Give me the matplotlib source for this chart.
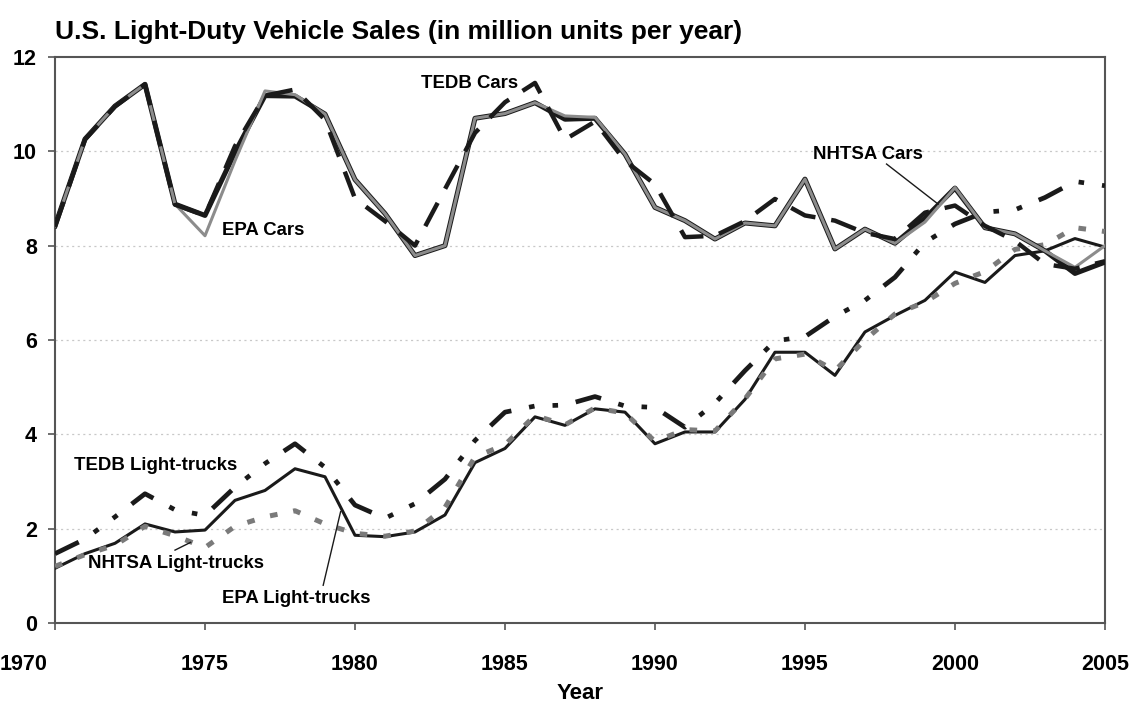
import matplotlib
matplotlib.use("Agg")
import matplotlib.pyplot as plt
from matplotlib.transforms import ScaledTranslation

plt.rcParams['font.family'] = ['Liberation Sans', 'DejaVu Sans']
plt.rcParams['font.weight'] = 'bold'
plt.rcParams['lines.scale_dashes'] = False

years = list(range(1970, 2006))

nhtsa_cars = [8.42, 10.26, 10.96, 11.42, 8.88, 8.64, 9.98, 11.18, 11.17, 10.79,
              9.40, 8.68, 7.79, 8.00, 10.70, 10.80, 11.03, 10.68, 10.70, 9.94,
              8.81, 8.53, 8.14, 8.48, 8.42, 9.41, 7.93, 8.35, 8.05, 8.58,
              9.22, 8.38, 8.25, 7.89, 7.41, 7.65]

epa_cars = [8.42, 10.26, 10.96, 11.42, 8.88, 8.21, 9.80, 11.28, 11.20, 10.79,
            9.40, 8.68, 7.79, 8.00, 10.70, 10.80, 11.03, 10.75, 10.72, 9.94,
            8.81, 8.53, 8.14, 8.48, 8.42, 9.41, 7.93, 8.35, 8.05, 8.50,
            9.23, 8.38, 8.25, 7.89, 7.54, 8.00]

tedb_cars = [8.40, 10.25, 10.95, 11.42, 8.87, 8.64, 10.11, 11.18, 11.31, 10.67,
             9.00, 8.52, 8.00, 9.20, 10.39, 11.04, 11.45, 10.25, 10.63, 9.80,
             9.30, 8.18, 8.21, 8.52, 8.99, 8.64, 8.53, 8.27, 8.14, 8.70,
             8.85, 8.42, 8.10, 7.61, 7.51, 7.67]

epa_trucks = [1.16, 1.47, 1.69, 2.10, 1.93, 1.97, 2.60, 2.81, 3.27, 3.10,
              1.86, 1.83, 1.93, 2.29, 3.40, 3.70, 4.37, 4.19, 4.54, 4.47,
              3.80, 4.05, 4.05, 4.74, 5.74, 5.74, 5.25, 6.17, 6.52, 6.84,
              7.44, 7.22, 7.79, 7.89, 8.15, 7.97]

nhtsa_trucks = [1.20, 1.45, 1.65, 2.05, 1.85, 1.60, 2.05, 2.25, 2.38, 2.10,
                1.90, 1.84, 1.95, 2.45, 3.52, 3.78, 4.40, 4.20, 4.56, 4.45,
                3.85, 4.10, 4.07, 4.75, 5.60, 5.70, 5.35, 6.00, 6.55, 6.80,
                7.20, 7.45, 7.92, 8.02, 8.38, 8.30]

tedb_trucks = [1.47, 1.78, 2.25, 2.74, 2.40, 2.28, 2.88, 3.38, 3.80, 3.30,
               2.50, 2.22, 2.53, 3.05, 3.87, 4.47, 4.60, 4.62, 4.80, 4.60,
               4.57, 4.15, 4.66, 5.35, 5.98, 6.07, 6.50, 6.84, 7.33, 8.07,
               8.46, 8.71, 8.76, 9.02, 9.36, 9.27]

x_ticks = [1970, 1975, 1980, 1985, 1990, 1995, 2000, 2005]
y_ticks = [0, 2, 4, 6, 8, 10, 12]

fig = plt.figure(figsize=(11.32, 7.12), dpi=100)
ax = fig.add_axes([0.0486, 0.125, 0.9275, 0.795])

ax.set_xlim(1970, 2005)
ax.set_ylim(0, 12)

for yv in y_ticks[1:-1]:
    ax.axhline(yv, color='#c8c8c8', lw=0.9, ls=(0, (1.5, 2.5)), zorder=1)

# Light trucks
ax.plot(years, epa_trucks, color='#1a1a1a', lw=2.2, zorder=3)
ax.plot(years, nhtsa_trucks, color='#7a7a7a', lw=3.6, ls=(0, (5.5, 11.5)), zorder=4)
ax.plot(years, tedb_trucks, color='#1a1a1a', lw=3.4,
        ls=(0, (19, 13, 4, 13, 4, 13)), zorder=5)

# Cars
ax.plot(years, nhtsa_cars, color='#1a1a1a', lw=3.6, zorder=6)
ax.plot(years, epa_cars, color='#8c8c8c', lw=2.2, zorder=7)
ax.plot(years, tedb_cars, color='#1a1a1a', lw=3.2, ls=(0, (19, 11.5)), zorder=8)

ax.set_xticks(x_ticks)
ax.set_yticks(y_ticks)
ax.tick_params(axis='both', labelsize=15.5, direction='out', length=5,
               width=1.2, color='#555555')
ax.tick_params(axis='x', pad=17)
ax.tick_params(axis='y', pad=8)
for lab in ax.get_xticklabels() + ax.get_yticklabels():
    lab.set_fontweight('bold')
first = ax.get_xticklabels()[0]
first.set_transform(first.get_transform() + ScaledTranslation(-0.31, 0, fig.dpi_scale_trans))

for s in ax.spines.values():
    s.set_color('#555555')
    s.set_linewidth(1.5)

ax.set_xlabel('Year', fontsize=16, fontweight='bold', labelpad=6)
fig.text(0.0486, 0.955, 'U.S. Light-Duty Vehicle Sales (in million units per year)',
         fontsize=19, fontweight='bold', ha='left', va='center')

ann_kw = dict(fontsize=13.4, fontweight='bold', va='center', ha='left', zorder=10)
ax.text(1982.2, 11.43, 'TEDB Cars', **ann_kw)
ax.text(1975.58, 8.32, 'EPA Cars', **ann_kw)
ax.text(1995.27, 9.93, 'NHTSA Cars', **ann_kw)
ax.text(1970.63, 3.34, 'TEDB Light-trucks', **ann_kw)
ax.text(1971.1, 1.27, 'NHTSA Light-trucks', **ann_kw)
ax.text(1975.58, 0.51, 'EPA Light-trucks', **ann_kw)

ax.plot([1997.72, 1999.44], [9.73, 8.88], color='#1a1a1a', lw=1.0, zorder=9)
ax.plot([1974.0, 1974.52], [1.545, 1.71], color='#1a1a1a', lw=1.0, zorder=9)
ax.plot([1978.94, 1979.52], [0.80, 2.36], color='#1a1a1a', lw=1.0, zorder=9)

fig.savefig('out.png', dpi=100)
